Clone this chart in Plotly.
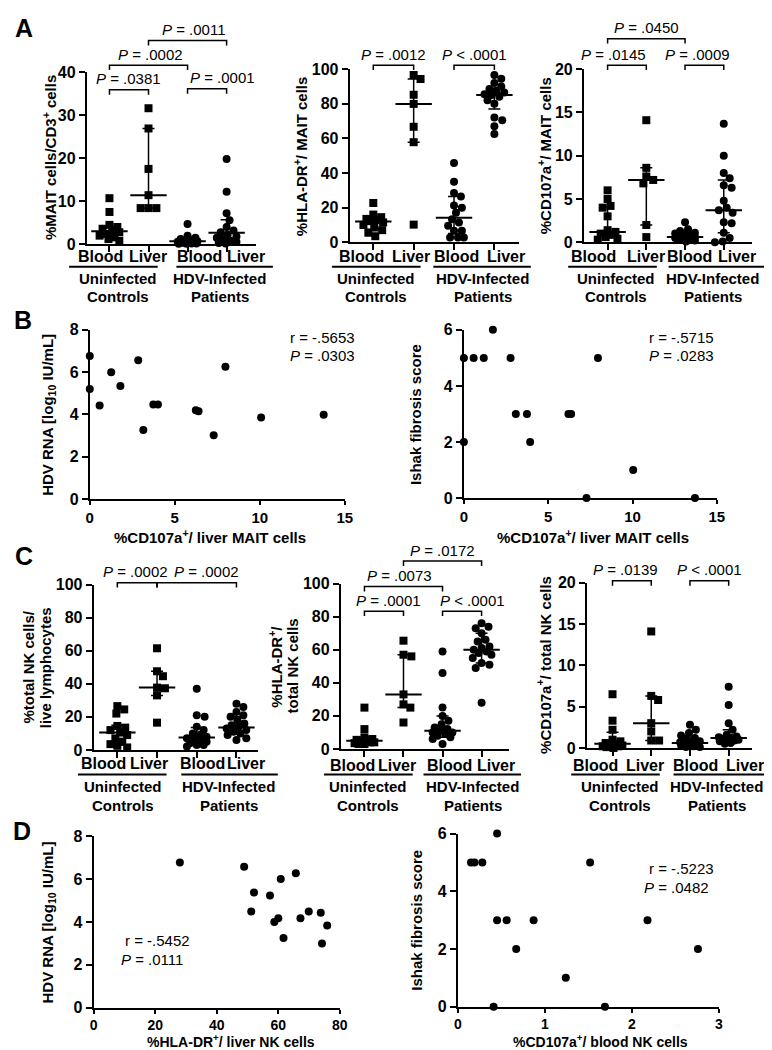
import numpy as np
import plotly.graph_objects as go

W, H = 772, 1050
FONT = "Liberation Sans, Arial, Helvetica, sans-serif"

# ---------------- DATA ----------------
CATEGORY_LABELS = ["Blood", "Liver", "Blood", "Liver"]
GROUP_LINE1 = ["Uninfected", "HDV-Infected"]
GROUP_LINE2 = ["Controls", "Patients"]

# A1  %MAIT cells / CD3+ cells
A1_ctrl_blood = [10.7, 7.5, 4.5, 4.0, 3.6, 3.2, 2.8, 2.4, 2.0, 1.6, 1.2, 0.8]
A1_ctrl_liver = [31.6, 26.9, 17.5, 11.4, 8.4, 8.4, 8.4]
A1_hdv_blood = [4.7, 2.0, 1.5, 1.2, 1.0, 0.8, 0.7, 0.6, 0.5, 0.4, 0.3, 0.3, 0.2, 0.2, 0.1, 0.1]
A1_hdv_liver = [19.8, 12.2, 7.2, 5.6, 4.0, 3.2, 2.8, 2.2, 1.8, 1.5, 1.2, 0.8, 0.5, 0.3, 0.2]
A1_median = [3.0, 11.4, 0.7, 2.7]
A1_q1 = [1.6, 8.4, 0.3, 1.1]
A1_q3 = [4.2, 26.9, 1.2, 5.7]

# A2  %HLA-DR+ / MAIT cells
A2_ctrl_blood = [22.7, 16.0, 14.5, 13.5, 12.8, 12.2, 11.5, 10.0, 8.5, 7.0, 5.5, 3.5]
A2_ctrl_liver = [96.6, 94.3, 85.2, 79.9, 66.7, 57.8, 10.2]
A2_hdv_blood = [45.8, 35.0, 28.4, 26.5, 21.2, 19.9, 17.0, 13.3, 11.4, 9.5, 6.6, 6.6, 2.8, 2.8, 2.8]
A2_hdv_liver = [96.6, 94.5, 92.0, 90.0, 88.5, 87.5, 86.5, 85.5, 85.0, 84.0, 82.0, 80.0, 72.0, 70.5, 67.0, 62.5]
A2_median = [12.0, 79.9, 14.2, 85.0]
A2_q1 = [7.5, 57.8, 5.0, 77.0]
A2_q3 = [14.5, 94.3, 26.5, 89.0]

# A3  %CD107a+ / MAIT cells
A3_ctrl_blood = [6.0, 5.0, 4.2, 4.0, 3.0, 1.4, 1.2, 1.0, 0.9, 0.6, 0.4, 0.3]
A3_ctrl_liver = [14.1, 8.6, 7.6, 7.2, 6.8, 2.0, 0.6]
A3_hdv_blood = [2.3, 1.5, 1.3, 1.1, 1.0, 0.9, 0.8, 0.7, 0.6, 0.5, 0.5, 0.4, 0.3, 0.3, 0.2, 0.1]
A3_hdv_liver = [13.7, 10.0, 8.0, 7.4, 6.6, 6.3, 4.8, 4.0, 3.7, 3.4, 2.3, 2.2, 1.1, 0.5, 0.1, 0.0]
A3_median = [1.2, 7.2, 0.6, 3.7]
A3_q1 = [0.5, 2.0, 0.3, 1.1]
A3_q3 = [4.1, 8.6, 1.0, 7.2]

# C1  %total NK cells / live lymphocytes
C1_ctrl_blood = [26.5, 24.5, 22.0, 14.5, 13.5, 12.0, 10.5, 9.0, 7.0, 5.0, 3.5, 2.5, 1.5]
C1_ctrl_liver = [61.5, 47.6, 44.6, 37.7, 37.3, 33.0, 16.5]
C1_hdv_blood = [37.0, 21.0, 20.0, 14.0, 12.0, 10.0, 9.0, 8.0, 7.0, 6.0, 5.0, 5.0, 4.0, 3.0, 3.0, 2.0]
C1_hdv_liver = [28.0, 26.0, 23.0, 21.0, 20.0, 18.0, 16.0, 15.0, 14.0, 13.0, 12.0, 11.0, 10.0, 9.0, 7.0, 6.0]
C1_median = [10.5, 37.7, 7.5, 13.5]
C1_q1 = [3.0, 33.0, 4.0, 9.5]
C1_q3 = [15.0, 47.6, 13.5, 20.0]

# C2  %HLA-DR+ / total NK cells
C2_ctrl_blood = [25.0, 12.0, 7.0, 6.0, 5.5, 5.0, 4.5, 4.0, 4.0, 3.5, 3.0, 3.0]
C2_ctrl_liver = [65.5, 57.0, 56.0, 33.0, 27.0, 25.0, 16.0]
C2_hdv_blood = [59.0, 46.0, 25.0, 20.0, 17.0, 15.0, 13.0, 12.0, 11.0, 10.0, 10.0, 9.0, 8.0, 7.0, 6.0, 3.0]
C2_hdv_liver = [76.0, 74.0, 73.0, 70.0, 66.0, 65.0, 62.0, 61.0, 60.0, 59.0, 58.0, 57.0, 55.0, 52.0, 51.0, 49.0, 28.0]
C2_median = [5.0, 33.0, 11.0, 60.0]
C2_q1 = [3.5, 25.0, 7.0, 52.0]
C2_q3 = [7.0, 57.0, 20.0, 70.0]

# C3  %CD107a+ / total NK cells
C3_ctrl_blood = [6.5, 3.3, 2.2, 1.0, 0.8, 0.6, 0.5, 0.4, 0.3, 0.2, 0.2, 0.1, 0.0]
C3_ctrl_liver = [14.1, 6.3, 5.8, 3.0, 2.0, 0.9, 0.9]
C3_hdv_blood = [2.8, 2.2, 1.8, 1.5, 1.2, 1.0, 0.8, 0.7, 0.6, 0.5, 0.4, 0.3, 0.3, 0.2, 0.1, 0.1]
C3_hdv_liver = [7.4, 5.2, 3.0, 2.2, 1.6, 1.4, 1.3, 1.2, 1.1, 1.0, 1.0, 0.9, 0.8, 0.6, 0.5]
C3_median = [0.5, 3.0, 0.6, 1.2]
C3_q1 = [0.2, 0.9, 0.3, 0.8]
C3_q3 = [1.9, 6.3, 1.5, 2.2]

# B / D correlations
B1_x = [0, 0, 0.58, 1.26, 1.8, 2.85, 3.15, 3.74, 4.01, 6.24, 6.4, 7.29, 7.98, 10.08, 13.76]
B1_y = [6.76, 5.2, 4.42, 6.0, 5.35, 6.56, 3.27, 4.47, 4.47, 4.2, 4.15, 3.02, 6.25, 3.85, 3.99]
B2_x = [0, 0, 0.58, 1.18, 1.72, 2.77, 3.08, 3.74, 3.93, 6.2, 6.36, 7.27, 7.95, 10.04, 13.7]
B2_y = [5, 2, 5, 5, 6, 5, 3, 3, 2, 3, 3, 0, 5, 1, 0]
D1_x = [28.0, 48.9, 52.1, 51.2, 57.3, 58.7, 60.0, 60.8, 61.7, 65.7, 67.2, 69.9, 73.8, 74.2, 75.9]
D1_y = [6.79, 6.59, 5.38, 4.49, 5.24, 4.0, 4.18, 6.01, 3.26, 6.28, 4.18, 4.49, 4.44, 3.0, 3.84]
D2_x = [0.15, 0.19, 0.28, 0.45, 0.45, 0.56, 0.67, 0.87, 0.41, 1.24, 1.52, 1.69, 2.18, 2.76]
D2_y = [5, 5, 5, 6, 3, 3, 2, 3, 0, 1, 5, 0, 3, 2]

# ---------------- LAYOUT CONFIG (pixels) ----------------
DOT_PANELS = [
    dict(groups=[A1_ctrl_blood, A1_ctrl_liver, A1_hdv_blood, A1_hdv_liver], med=A1_median, q1=A1_q1, q3=A1_q3,
         box=(76, 248, 57, 232), cats=(99, 218), ymax=40, dtick=10,
         ytitle=["%MAIT cells/CD3<sup>+</sup> cells"], ytx=38, yty=144,
         labx=[90, 138, 190, 238], laby=244,
         grp=[(108, 58, 148), (211, 167, 265)], uy=255, gy=(267, 285),
         brackets=[(1, 2, 75, "=", ".0381", 0), (1, 3, 50, "=", ".0002", 2),
                   (3, 4, 74, "=", ".0001", 16), (2, 4, 25, "=", ".0011", 7)]),
    dict(groups=[A2_ctrl_blood, A2_ctrl_liver, A2_hdv_blood, A2_hdv_liver], med=A2_median, q1=A2_q1, q3=A2_q3,
         box=(343, 515, 54, 230), cats=(367, 490), ymax=100, dtick=20,
         ytitle=["%HLA-DR<sup>+</sup>/ MAIT cells"], ytx=293, yty=142,
         labx=[355, 405, 452, 502], laby=244,
         grp=[(370, 325, 415), (478, 428, 527)], uy=255, gy=(267, 285),
         brackets=[(1, 2, 50, "=", ".0012", 0), (3, 4, 50, "<", ".0001", 0)]),
    dict(groups=[A3_ctrl_blood, A3_ctrl_liver, A3_hdv_blood, A3_hdv_liver], med=A3_median, q1=A3_q1, q3=A3_q3,
         box=(581, 752, 54, 230), cats=(605, 723), ymax=20, dtick=5,
         ytitle=["%CD107a<sup>+</sup>/ MAIT cells"], ytx=541, yty=142,
         labx=[591, 644, 688, 736], laby=244,
         grp=[(614, 565, 655), (712, 667, 765)], uy=255, gy=(267, 285),
         brackets=[(1, 2, 50, "=", ".0145", -14), (3, 4, 50, "=", ".0009", -7), (1, 3, 23, "=", ".0450", 0)]),
    dict(groups=[C1_ctrl_blood, C1_ctrl_liver, C1_hdv_blood, C1_hdv_liver], med=C1_median, q1=C1_q1, q3=C1_q3,
         box=(83, 250, 578, 746), cats=(107, 228), ymax=100, dtick=20,
         ytitle=["%total NK cells/", "live lymphocytes"], ytx=25, yty=662,
         labx=[93, 139, 194, 238], laby=760,
         grp=[(113, 67, 157), (220, 172, 270)], uy=771, gy=(783, 802),
         brackets=[(1, 2, 576, "=", ".0002", -2), (2, 4, 576, "=", ".0002", 10)]),
    dict(groups=[C2_ctrl_blood, C2_ctrl_liver, C2_hdv_blood, C2_hdv_liver], med=C2_median, q1=C2_q1, q3=C2_q3,
         box=(334, 505, 577, 745), cats=(358, 477), ymax=100, dtick=20,
         ytitle=["%HLA-DR<sup>+</sup>/", "total NK cells"], ytx=276, yty=661,
         labx=[346, 391, 444, 492], laby=762,
         grp=[(362, 317, 407), (468, 418, 517)], uy=771, gy=(783, 802),
         brackets=[(1, 2, 605, "=", ".0001", 5), (3, 4, 605, "<", ".0001", 11),
                   (1, 3, 580, "=", ".0073", -4), (2, 4, 554, "=", ".0172", 0)]),
    dict(groups=[C3_ctrl_blood, C3_ctrl_liver, C3_hdv_blood, C3_hdv_liver], med=C3_median, q1=C3_q1, q3=C3_q3,
         box=(584, 752, 576, 744), cats=(610, 728), ymax=20, dtick=5,
         ytitle=["%CD107a<sup>+</sup>/ total NK cells"], ytx=540, yty=660,
         labx=[593, 643, 694, 745], laby=762,
         grp=[(618, 568, 658), (716, 672, 772)], uy=771, gy=(783, 802),
         brackets=[(1, 2, 574, "=", ".0139", -6), (3, 4, 574, "<", ".0001", 0)]),
]

SCATTER_PANELS = [
    dict(x=B1_x, y=B1_y, box=(79, 338, 319, 491), xr=15, xd=5, yr=8, yd=2,
         ytitle="HDV RNA [log<sub>10</sub> IU/mL]", ytx=37, yty=405,
         xtitle="%CD107a<sup>+</sup>/ liver MAIT cells", xtx=201, xty=529, tsize=15, tick=15,
         stat=("r = -.5653", ".0303"), sx=(280, 280), sy=(327, 345)),
    dict(x=B2_x, y=B2_y, box=(459, 716, 319, 490), xr=15, xd=5, yr=6, yd=2,
         ytitle="Ishak fibrosis score", ytx=410, yty=405,
         xtitle="%CD107a<sup>+</sup>/ liver MAIT cells", xtx=590, xty=529, tsize=15, tick=15,
         stat=("r = -.5715", ".0283"), sx=(645, 645), sy=(327, 345)),
    dict(x=D1_x, y=D1_y, box=(83, 333, 834, 1008), xr=80, xd=20, yr=8, yd=2,
         ytitle="HDV RNA [log<sub>10</sub> IU/mL]", ytx=37, yty=921,
         xtitle="%HLA-DR<sup>+</sup>/ liver NK cells", xtx=222, xty=1041.5, tsize=14, tick=14,
         stat=("r = -.5452", ".0111"), sx=(113, 109), sy=(940, 959)),
    dict(x=D2_x, y=D2_y, box=(453, 718, 831, 1007), xr=3, xd=1, yr=6, yd=2,
         ytitle="Ishak fibrosis score", ytx=411, yty=919,
         xtitle="%CD107a<sup>+</sup>/ blood NK cells", xtx=598, xty=1041.5, tsize=14, tick=14,
         stat=("r = -.5223", ".0482"), sx=(645, 640), sy=(867, 886)),
]

PANEL_LETTERS = [("A", 12, 12), ("B", 11, 309), ("C", 12, 549), ("D", 10, 828)]


# ---------------- HELPERS ----------------
def P(px):
    return px / W


def Q(py):
    return 1 - py / H


fig = go.Figure()
axes = {}
shapes = []
annots = []


def text(t, x, y, size, bold=False, angle=0, xanchor="center"):
    if bold:
        t = "<b>" + t + "</b>"
    annots.append(dict(text=t, x=P(x), y=Q(y), xref="paper", yref="paper", showarrow=False,
                       textangle=angle, xanchor=xanchor, yanchor="middle",
                       font=dict(family=FONT, size=size, color="black")))


def hline(x1, x2, y, w=2.0):
    shapes.append(dict(type="line", xref="paper", yref="paper", x0=P(x1), x1=P(x2), y0=Q(y), y1=Q(y),
                       line=dict(color="black", width=w)))


def axis_pair(i, box, xrange, yrange, xticks, yticks, xlabels, xtick_size=15):
    s = "" if i == 1 else str(i)
    L, R, T, B = box
    common = dict(showline=True, linewidth=2, linecolor="black", ticks="outside", ticklen=6, tickwidth=2,
                  tickcolor="black", showgrid=False, zeroline=False, fixedrange=True,
                  tickfont=dict(family=FONT, size=16, color="black"))
    xa = dict(domain=[P(L), P(R)], range=xrange, anchor="y" + s, tickvals=xticks, **common)
    if xlabels:
        xa["ticktext"] = ["<b>%g</b>" % v for v in xticks]
        xa["ticklen"] = 4
        xa["tickfont"] = dict(family=FONT, size=xtick_size, color="black")
    else:
        xa["showticklabels"] = False
    axes["xaxis" + s] = xa
    axes["yaxis" + s] = dict(domain=[Q(B), Q(T)], range=yrange, anchor="x" + s, tickvals=yticks,
                             ticktext=["<b>%g</b>" % v for v in yticks], **common)
    return "x" + s, "y" + s


def swarm(vals, ppu, size=8.0, maxw=10.0):
    """Deterministic beeswarm offsets in pixels (layout only)."""
    vals = np.asarray(vals, float)
    order = np.argsort(-vals, kind="stable")
    step = 1.0
    cands = [0.0]
    k = 1
    while k * step <= maxw:
        cands += [k * step, -k * step]
        k += 1
    placed = []
    offs = np.zeros(len(vals))
    for i in order:
        best, bestd = None, -1
        for c in cands:
            d = min([np.hypot(c - ox, (vals[i] - vy) * ppu) for ox, vy in placed] or [1e9])
            if d >= size * 0.95:
                best = c
                break
            if d > bestd + 1e-9:
                best, bestd = c, d
        offs[i] = best
        placed.append((best, vals[i]))
    return offs


idx = 0
for cfg in DOT_PANELS:
    idx += 1
    L, R, T, B = cfg["box"]
    c1, c4 = cfg["cats"]
    s = (c4 - c1) / 3.0
    r0 = 1 - (c1 - L) / s
    r1 = 4 + (R - c4) / s
    xa, ya = axis_pair(idx, cfg["box"], [r0, r1], [0, cfg["ymax"]], [1, 2, 3, 4],
                       list(range(0, cfg["ymax"] + 1, cfg["dtick"])), False)
    ppu = (B - T) / cfg["ymax"]
    for gi, vals in enumerate(cfg["groups"]):
        offs = swarm(vals, ppu) / s
        fig.add_trace(go.Scatter(
            x=(gi + 1) + offs, y=vals, mode="markers", xaxis=xa, yaxis=ya, cliponaxis=False,
            marker=dict(symbol="square" if gi < 2 else "circle", size=8, color="black"),
            showlegend=False, hoverinfo="skip"))
    med = np.array(cfg["med"])
    fig.add_trace(go.Scatter(
        x=[1, 2, 3, 4], y=med, mode="markers", xaxis=xa, yaxis=ya, cliponaxis=False,
        marker=dict(symbol="line-ew", size=26, color="black", line=dict(width=2, color="black")),
        error_y=dict(type="data", symmetric=False, array=np.array(cfg["q3"]) - med,
                     arrayminus=med - np.array(cfg["q1"]), width=6, thickness=1.5, color="black"),
        showlegend=False, hoverinfo="skip"))

    for lab, lx in zip(CATEGORY_LABELS, cfg["labx"]):
        text(lab, lx, cfg["laby"], 16, bold=True)
    for g, (gc, ga, gb) in enumerate(cfg["grp"]):
        hline(ga, gb, cfg["uy"], 2)
        text(GROUP_LINE1[g], gc, cfg["gy"][0], 15, bold=True)
        text(GROUP_LINE2[g], gc, cfg["gy"][1], 15, bold=True)
    lines = cfg["ytitle"]
    if len(lines) == 1:
        text(lines[0], cfg["ytx"], cfg["yty"], 15, bold=True, angle=-90)
    else:
        text(lines[0], cfg["ytx"] - 8.5, cfg["yty"], 15, bold=True, angle=-90)
        text(lines[1], cfg["ytx"] + 8.5, cfg["yty"], 15, bold=True, angle=-90)
    for (a, b, by, op, pv, dx) in cfg["brackets"]:
        xa_px = c1 + (a - 1) * s
        xb_px = c1 + (b - 1) * s
        path = "M {x0},{y0} L {x0},{y1} L {x1},{y1} L {x1},{y0}".format(
            x0=P(xa_px), x1=P(xb_px), y0=Q(by + 5), y1=Q(by))
        shapes.append(dict(type="path", xref="paper", yref="paper", path=path,
                           line=dict(color="black", width=1.5)))
        optxt = "=" if op == "=" else "&lt;"
        text("<i>P</i> " + optxt + " " + pv, (xa_px + xb_px) / 2 + dx, by - 11, 15)

for cfg in SCATTER_PANELS:
    idx += 1
    xa, ya = axis_pair(idx, cfg["box"], [0, cfg["xr"]], [0, cfg["yr"]],
                       list(range(0, cfg["xr"] + 1, cfg["xd"])), list(range(0, cfg["yr"] + 1, cfg["yd"])),
                       True, cfg["tick"])
    fig.add_trace(go.Scatter(x=cfg["x"], y=cfg["y"], mode="markers", xaxis=xa, yaxis=ya, cliponaxis=False,
                             marker=dict(symbol="circle", size=8, color="black"),
                             showlegend=False, hoverinfo="skip"))
    text(cfg["ytitle"], cfg["ytx"], cfg["yty"], 15, bold=True, angle=-90)
    text(cfg["xtitle"], cfg["xtx"], cfg["xty"], cfg["tsize"], bold=True)
    text(cfg["stat"][0], cfg["sx"][0], cfg["sy"][0], 15, xanchor="left")
    text("<i>P</i> = " + cfg["stat"][1], cfg["sx"][1], cfg["sy"][1], 15, xanchor="left")

for lt, lx, ly in PANEL_LETTERS:
    text(lt, lx, ly, 25, bold=True)

fig.update_layout(width=W, height=H, margin=dict(l=0, r=0, t=0, b=0), paper_bgcolor="white",
                  plot_bgcolor="white", showlegend=False, shapes=shapes, annotations=annots, **axes)
fig.write_html("out.html")
